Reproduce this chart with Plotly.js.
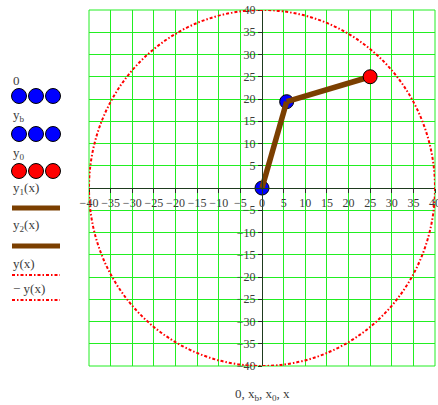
<!DOCTYPE html>
<html>
<head>
<meta charset="utf-8">
<script src="https://cdn.plot.ly/plotly-3.0.1.min.js"></script>
<style>html,body{margin:0;padding:0;background:#fff;}#chart{width:438px;height:405px;}</style>
</head>
<body>
<div id="chart"></div>
<script>
// ---- data ----
const radius = 40;                 // y(x) / -y(x): circle of radius 40
const originX = [0], originY = [0];          // "0"
const xb = [5.7], yb = [19.4];               // x_b, y_b
const x0 = [25], y0 = [25];                  // x_0, y_0
const seg1X = [0, 5.7], seg1Y = [0, 19.4];   // y1(x)
const seg2X = [5.7, 25], seg2Y = [19.4, 25]; // y2(x)
const tickVals = [-40,-35,-30,-25,-20,-15,-10,-5,0,5,10,15,20,25,30,35,40];
const xTickText = tickVals.map(v => v < 0 ? '\u2212' + Math.abs(v) : String(v));
const yTickText = tickVals.map(v => v === 0 ? '' : (v < 0 ? '\u2212' + Math.abs(v) : String(v)));
const legendLabels = ['0', 'y<sub>b</sub>', 'y<sub>0</sub>', 'y<sub>1</sub>(x)', 'y<sub>2</sub>(x)', 'y(x)', '\u2212 y(x)'];

// ---- style ----
const W = 438, H = 405;
const M = {l: 89, r: 3, t: 10, b: 39};
const PW = W - M.l - M.r, PH = H - M.t - M.b;
const px = x => (x - M.l) / PW;
const py = y => (H - M.b - y) / PH;
const brown = '#7b3f00';
const green = '#22ee22';
const axisCol = '#1e3a1e';
const txtCol = '#3c3c3c';
const serif = 'Liberation Serif, Times New Roman, serif';

const traces = [
  {x: originX, y: originY, mode: 'markers', marker: {size: 14, color: '#0000ff', line: {color: '#000', width: 1}}},
  {x: xb, y: yb, mode: 'markers', marker: {size: 14, color: '#0000ff', line: {color: '#000', width: 1}}},
  {x: seg1X, y: seg1Y, mode: 'lines', line: {color: brown, width: 5.5}},
  {x: seg2X, y: seg2Y, mode: 'lines', line: {color: brown, width: 5.5}},
  {x: x0, y: y0, mode: 'markers', marker: {size: 14, color: '#ff0000', line: {color: '#000', width: 1}}}
];

const shapes = [
  {type: 'rect', xref: 'paper', yref: 'paper', x0: 0, x1: 1, y0: 0, y1: 1, line: {color: green, width: 1}, layer: 'below'},
  {type: 'circle', xref: 'x', yref: 'y', x0: -radius, x1: radius, y0: -radius, y1: radius,
   line: {color: '#ff0000', width: 2, dash: '3px,2px,1.5px,2px'}, layer: 'above'}
];
const annotations = [];

// legend (Mathcad style: label above sample)
const labY = [80, 116, 153, 188, 226, 263, 288];
legendLabels.forEach((t, i) => {
  annotations.push({xref: 'paper', yref: 'paper', x: px(11), y: py(labY[i]), xanchor: 'left', yanchor: 'middle',
    text: t, showarrow: false, font: {family: serif, size: 13, color: txtCol}});
});
function dots(yPix, color) {
  [19, 36, 53].forEach(cx => shapes.push({type: 'circle', xref: 'paper', yref: 'paper',
    xsizemode: 'pixel', ysizemode: 'pixel', xanchor: px(cx), yanchor: py(yPix),
    x0: -7.5, x1: 7.5, y0: -7.5, y1: 7.5, fillcolor: color, line: {color: '#000', width: 1}}));
}
dots(96, '#0000ff'); dots(134, '#0000ff'); dots(171, '#ff0000');
function lseg(yPix, color, width, dash) {
  shapes.push({type: 'line', xref: 'paper', yref: 'paper', x0: px(12), x1: px(60), y0: py(yPix), y1: py(yPix),
    line: {color: color, width: width, dash: dash || 'solid'}});
}
lseg(208, brown, 5); lseg(246, brown, 5);
lseg(275, '#ff0000', 2, '3px,2px,1.5px,2px'); lseg(300, '#ff0000', 2, '3px,2px,1.5px,2px');

annotations.push({xref: 'paper', yref: 'paper', x: 0.5, y: py(394), xanchor: 'center', yanchor: 'middle',
  text: '0, x<sub>b</sub>, x<sub>0</sub>, x', showarrow: false, font: {family: serif, size: 13, color: txtCol}});

const axisCommon = {
  range: [-40, 40], tickmode: 'array', tickvals: tickVals,
  showgrid: true, gridcolor: green, gridwidth: 1, zeroline: false,
  showline: true, linecolor: axisCol, linewidth: 1,
  ticks: 'outside', ticklen: 4, tickcolor: axisCol,
  tickfont: {family: serif, size: 12, color: txtCol},
  anchor: 'free', position: 0.5, fixedrange: true, automargin: false,
  ticklabeloverflow: 'allow'
};

const layout = {
  width: W, height: H, margin: M, showlegend: false,
  paper_bgcolor: '#fff', plot_bgcolor: '#fff',
  xaxis: Object.assign({}, axisCommon, {ticktext: xTickText}),
  yaxis: Object.assign({}, axisCommon, {ticktext: yTickText}),
  shapes: shapes, annotations: annotations
};

Plotly.newPlot('chart', traces, layout, {staticPlot: true, displayModeBar: false});
</script>
</body>
</html>
